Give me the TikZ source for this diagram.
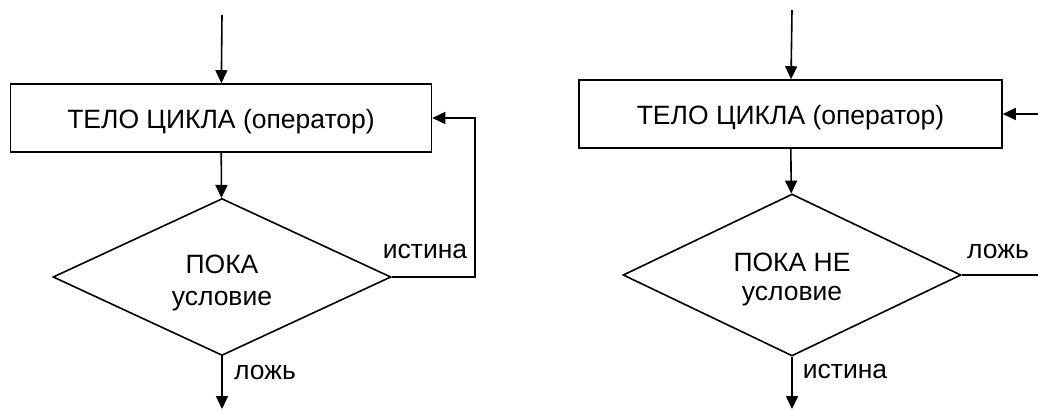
\documentclass[tikz,border=0pt]{standalone}
\usepackage{fontspec}
\setmainfont{Liberation Sans}
\usetikzlibrary{arrows.meta,shapes.geometric}

\tikzset{
    flow/.style={-{Triangle[length=13pt,width=12pt]}},
    body/.style={draw, minimum width=421pt, minimum height=68pt, inner sep=0pt,
                 text height=20pt, text depth=0pt},
    cond/.style={draw, diamond, aspect=2.15, minimum width=338pt, inner sep=0pt},
    lbl/.style={inner sep=0pt, anchor=base},
}

\begin{document}
\begin{tikzpicture}[x=1pt,y=-1pt]
    \useasboundingbox (0,0) rectangle (1038,410);
    \begin{scope}[line width=1.6pt,font=\fontsize{26.5}{30}\selectfont]
    % left: ПОКА
    \node[body] (bodyA) at (221,118) {ТЕЛО ЦИКЛА (оператор)};
    \node[cond, minimum height=157pt] (condA) at (222,277) {};
    \node[lbl] (whileA) at (222,273) {ПОКА};
    \node[lbl] (testA) at (222,305) {условие};
    \coordinate (inA) at (222,15);
    \coordinate (outA) at (222,409);
    \coordinate (backA) at (475,118);
    \draw [flow] (inA) -- (bodyA);
    \draw [flow] (bodyA) -- (condA);
    \draw [flow] (condA.east) -| (backA) -- (bodyA.east);
    \draw [flow] (condA) -- (outA);
    \node[lbl] (trueA) at (425,258) {истина};
    \node[lbl] (falseA) at (265,379) {ложь};

    % right: ПОКА НЕ
    \node[body, minimum width=423pt] (bodyB) at (790.5,114) {ТЕЛО ЦИКЛА (оператор)};
    \node[cond, minimum height=162pt] (condB) at (792,275) {};
    \node[lbl] (untilB) at (792,271.5) {ПОКА НЕ};
    \node[lbl] (testB) at (792,300) {условие};
    \coordinate (inB) at (792,10);
    \coordinate (outB) at (792,409);
    \coordinate (backB) at (1038,114);
    \coordinate (exitB) at (1038,275);
    \draw [flow] (inB) -- (bodyB);
    \draw [flow] (bodyB) -- (condB);
    \draw (condB.east) -- (exitB);
    \draw [flow] (backB) -- (bodyB.east);
    \draw [flow] (condB) -- (outB);
    \node[lbl] (falseB) at (998,258) {ложь};
    \node[lbl] (trueB) at (845,378) {истина};
    \end{scope}
\end{tikzpicture}
\end{document}
